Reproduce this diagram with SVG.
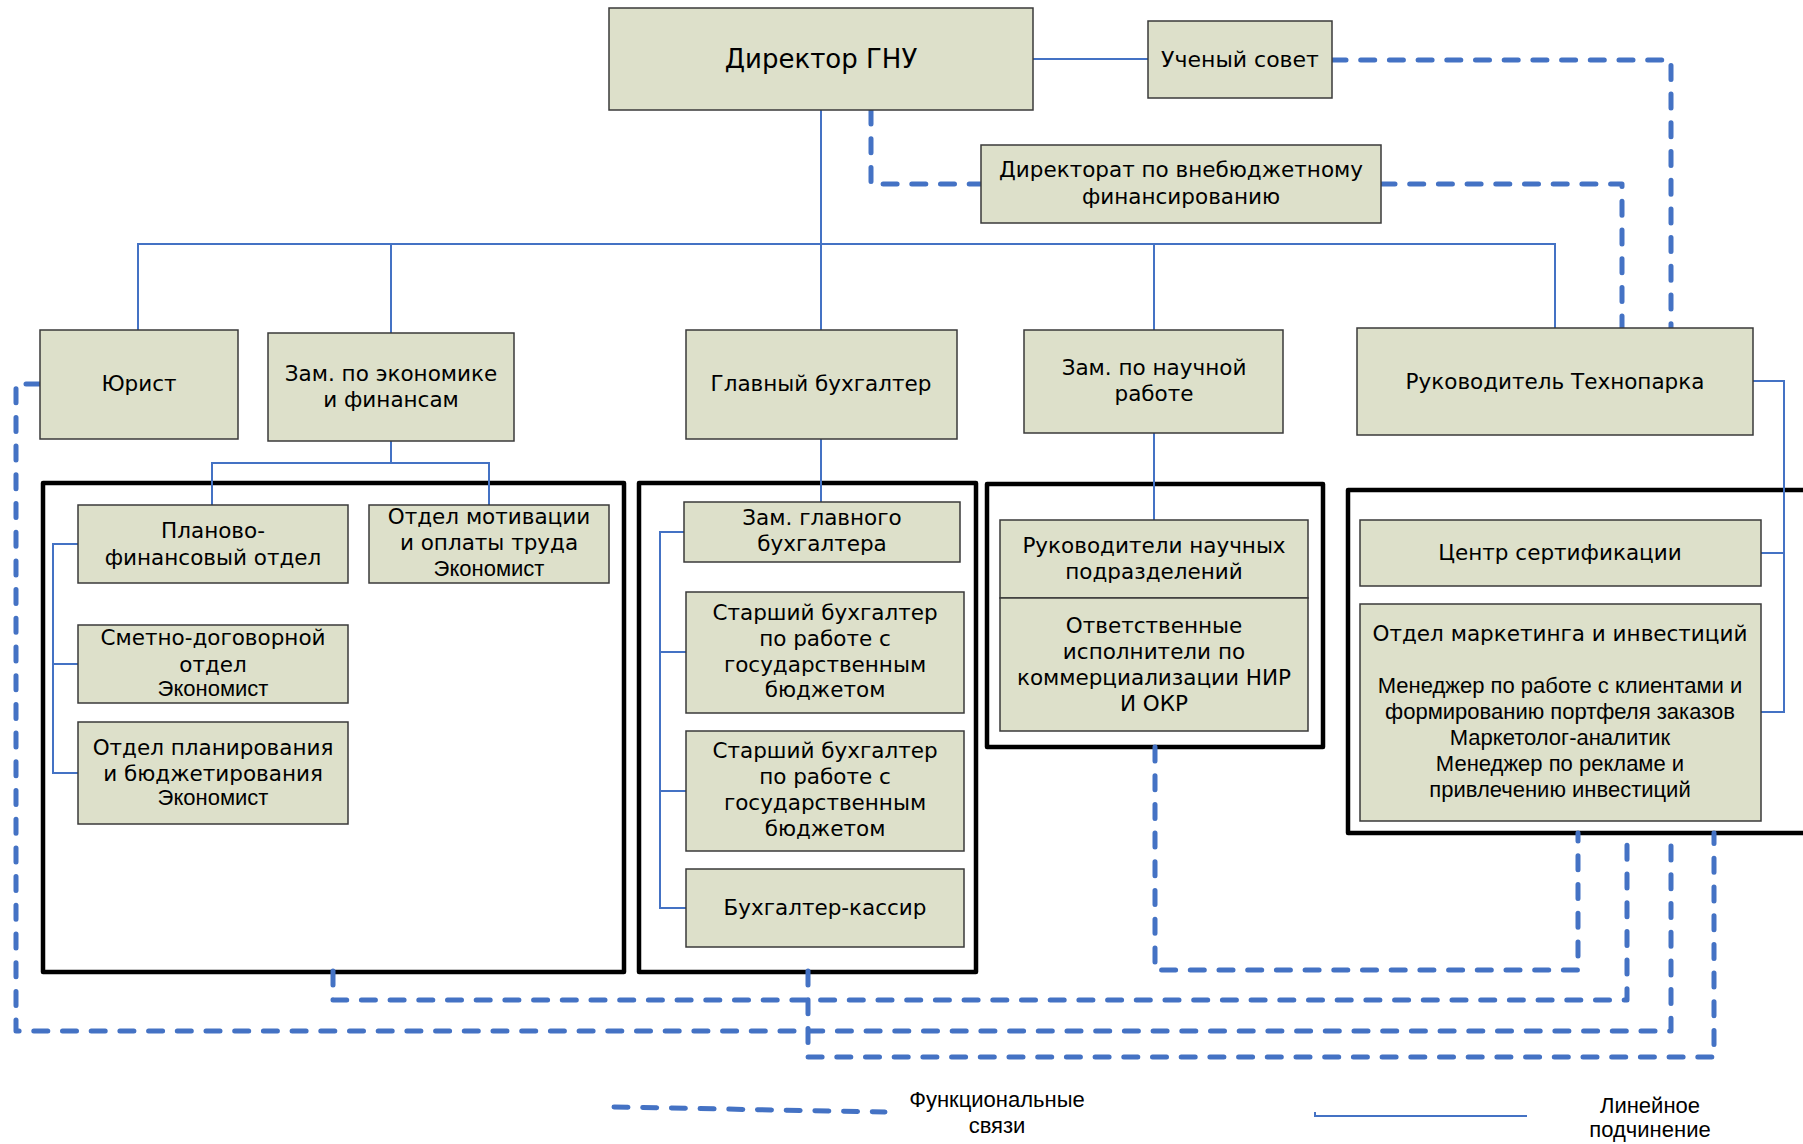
<svg xmlns="http://www.w3.org/2000/svg" width="1803" height="1144" viewBox="0 0 1803 1144">
<style>
.box{fill:#DDE0CA;stroke:#3a3a3a;stroke-width:1.5}
.grp{fill:none;stroke:#000;stroke-width:4.5;stroke-linejoin:round}
.ln{fill:none;stroke:#4472C4;stroke-width:2}
.dash{fill:none;stroke:#4472C4;stroke-width:5;stroke-dasharray:14 14.7;stroke-linecap:round;stroke-linejoin:round}
text{font-family:"DejaVu Sans",Verdana,sans-serif;font-size:21.5px;fill:#000;text-anchor:middle}
.ar{font-family:"Liberation Sans",Arial,sans-serif;font-size:22px}
.lg{font-family:"Liberation Sans",Arial,sans-serif;font-size:22px}
</style>
<rect width="1803" height="1144" fill="#fff"/>

<g id="groups">
<rect id="group-economics" class="grp" x="43" y="483" width="581" height="489"/>
<rect id="group-accounting" class="grp" x="639" y="483" width="337" height="489"/>
<rect id="group-science" class="grp" x="987" y="484" width="336" height="263"/>
<rect id="group-technopark" class="grp" x="1348" y="490" width="470" height="343"/>
</g>

<g id="connectors">
<path class="ln" d="M1033,59 H1148"/>
<path class="ln" d="M821,110 V330"/>
<path class="ln" d="M138,330 V244 H1555 V328"/>
<path class="ln" d="M391,244 V333"/>
<path class="ln" d="M1154,244 V330"/>
<path class="ln" d="M391,441 V463 M212,505 V463 H489 V505"/>
<path class="ln" d="M821,439 V502"/>
<path class="ln" d="M1154,433 V520"/>
<path class="ln" d="M78,544 H53 V773 H78 M53,664 H78"/>
<path class="ln" d="M684,532 H660 V908 H686 M660,652 H686 M660,791 H686"/>
<path class="ln" d="M1753,381 H1784 V712 H1761 M1784,553 H1761"/>
<path class="dash" d="M871,110 V184 H981"/>
<path class="dash" d="M1332,60 H1671 V328"/>
<path class="dash" d="M1381,184 H1622 V328"/>
<path class="dash" d="M40,384 H16 V1031 H1671 V833"/>
<path class="dash" d="M333,971 V1000 H1627 V833"/>
<path class="dash" d="M808,971 V1057 H1714 V833"/>
<path class="dash" d="M1155,747 V970 H1578 V833"/>
</g>

<g id="director">
<rect class="box" x="609" y="8" width="424" height="102"/>
<text x="821" y="68" style="font-size:26px">Директор ГНУ</text>
</g>
<g id="council">
<rect class="box" x="1148" y="21" width="184" height="77"/>
<text x="1240" y="67" style="font-size:22px">Ученый совет</text>
</g>
<g id="directorate">
<rect class="box" x="981" y="145" width="400" height="78"/>
<text x="1181" y="177">Директорат по внебюджетному</text>
<text x="1181" y="204">финансированию</text>
</g>
<g id="lawyer">
<rect class="box" x="40" y="330" width="198" height="109"/>
<text x="139" y="391">Юрист</text>
</g>
<g id="deputy-economics">
<rect class="box" x="268" y="333" width="246" height="108"/>
<text x="391" y="381">Зам. по экономике</text>
<text x="391" y="407">и финансам</text>
</g>
<g id="chief-accountant">
<rect class="box" x="686" y="330" width="271" height="109"/>
<text x="821" y="391">Главный бухгалтер</text>
</g>
<g id="deputy-science">
<rect class="box" x="1024" y="330" width="259" height="103"/>
<text x="1154" y="375">Зам. по научной</text>
<text x="1154" y="401">работе</text>
</g>
<g id="technopark-head">
<rect class="box" x="1357" y="328" width="396" height="107"/>
<text x="1555" y="389">Руководитель Технопарка</text>
</g>

<g id="planning-finance">
<rect class="box" x="78" y="505" width="270" height="78"/>
<text x="213" y="538">Планово-</text>
<text x="213" y="565">финансовый отдел</text>
</g>
<g id="motivation">
<rect class="box" x="369" y="505" width="240" height="78"/>
<text x="489" y="524">Отдел мотивации</text>
<text x="489" y="550">и оплаты труда</text>
<text x="489" y="576" class="ar">Экономист</text>
</g>
<g id="estimates">
<rect class="box" x="78" y="625" width="270" height="78"/>
<text x="213" y="645">Сметно-договорной</text>
<text x="213" y="672">отдел</text>
<text x="213" y="696" class="ar">Экономист</text>
</g>
<g id="budgeting">
<rect class="box" x="78" y="722" width="270" height="102"/>
<text x="213" y="755">Отдел планирования</text>
<text x="213" y="781">и бюджетирования</text>
<text x="213" y="805" class="ar">Экономист</text>
</g>

<g id="deputy-chief-accountant">
<rect class="box" x="684" y="502" width="276" height="60"/>
<text x="822" y="525">Зам. главного</text>
<text x="822" y="551">бухгалтера</text>
</g>
<g id="senior-accountant-1">
<rect class="box" x="686" y="592" width="278" height="121"/>
<text x="825" y="620">Старший бухгалтер</text>
<text x="825" y="646">по работе с</text>
<text x="825" y="672">государственным</text>
<text x="825" y="697">бюджетом</text>
</g>
<g id="senior-accountant-2">
<rect class="box" x="686" y="731" width="278" height="120"/>
<text x="825" y="758">Старший бухгалтер</text>
<text x="825" y="784">по работе с</text>
<text x="825" y="810">государственным</text>
<text x="825" y="836">бюджетом</text>
</g>
<g id="cashier">
<rect class="box" x="686" y="869" width="278" height="78"/>
<text x="825" y="915">Бухгалтер-кассир</text>
</g>

<g id="science-heads">
<rect class="box" x="1000" y="520" width="308" height="78"/>
<text x="1154" y="553">Руководители научных</text>
<text x="1154" y="579">подразделений</text>
</g>
<g id="commercialization">
<rect class="box" x="1000" y="598" width="308" height="133"/>
<text x="1154" y="633">Ответственные</text>
<text x="1154" y="659">исполнители по</text>
<text x="1154" y="685">коммерциализации НИР</text>
<text x="1154" y="711">И ОКР</text>
</g>

<g id="certification">
<rect class="box" x="1360" y="520" width="401" height="66"/>
<text x="1560" y="560">Центр сертификации</text>
</g>
<g id="marketing">
<rect class="box" x="1360" y="604" width="401" height="217"/>
<text x="1560" y="641">Отдел маркетинга и инвестиций</text>
<text x="1560" y="693" class="ar">Менеджер по работе с клиентами и</text>
<text x="1560" y="719" class="ar">формированию портфеля заказов</text>
<text x="1560" y="745" class="ar">Маркетолог-аналитик</text>
<text x="1560" y="771" class="ar">Менеджер по рекламе и</text>
<text x="1560" y="797" class="ar">привлечению инвестиций</text>
</g>

<g id="legend">
<path class="dash" d="M614,1107 L885,1112"/>
<text x="997" y="1107" class="lg">Функциональные</text>
<text x="997" y="1133" class="lg">связи</text>
<path class="ln" d="M1315,1112 V1116 H1527"/>
<text x="1650" y="1113" class="lg">Линейное</text>
<text x="1650" y="1137" class="lg">подчинение</text>
</g>
</svg>
